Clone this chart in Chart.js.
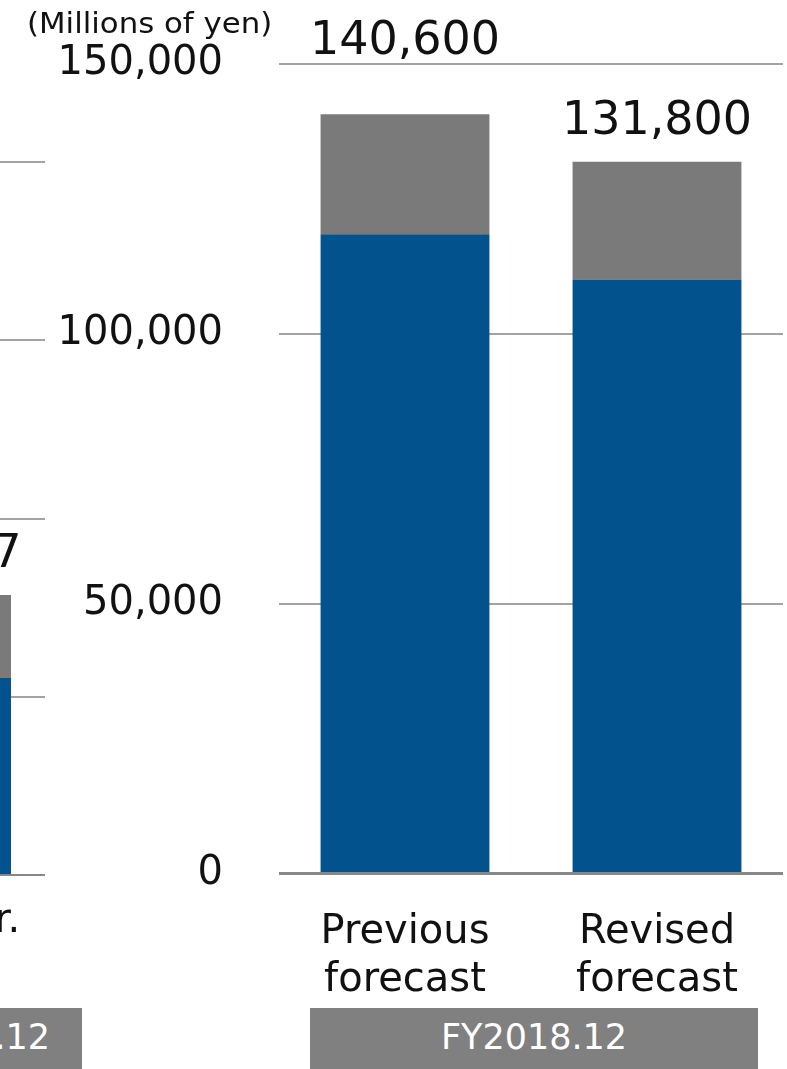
<!DOCTYPE html>
<html>
<head>
<meta charset="utf-8">
<script src="https://cdn.jsdelivr.net/npm/chart.js@4.4.1/dist/chart.umd.min.js"></script>
<style>
  html, body { margin: 0; padding: 0; background: #fff; overflow: hidden; }
  body { width: 787px; height: 1069px; position: relative; font-family: "DejaVu Sans", sans-serif; }
  canvas { position: absolute; top: 0; }
  #leftChart { left: -200px; }
  #mainChart { left: 0; }
  .unit { position: absolute; left: 27px; top: 7px; font-size: 28px; color: #111;
          transform-origin: left top; transform: scaleX(1.1); white-space: nowrap; }
  .fy { position: absolute; top: 1008px; height: 61px; background: #808080; color: #fff;
        font-size: 35px; line-height: 58px; text-align: center; }
</style>
</head>
<body>
<canvas id="leftChart" width="245" height="1069"></canvas>
<canvas id="mainChart" width="787" height="1069"></canvas>
<div class="unit">(Millions of yen)</div>
<div class="fy" style="left:-168px;width:250px">FY2017.12</div>
<div class="fy" style="left:310px;width:448px">FY2018.12</div>

<script>
// -----------------------
// Data
// -----------------------
const categories = [['Previous', 'forecast'], ['Revised', 'forecast']];
const mainSales = [118400, 110000];   // blue part
const otherSales = [22200, 21800];    // grey part
const yTicks = [0, 50000, 100000, 150000];

// earlier period, only its right edge is in view
const prevCategories = ['Actual yr.'];
const prevMain = [110500];
const prevOther = [46587];
const prevTicks = [0, 100000, 200000, 300000, 400000];

const BLUE = '#02538D';
const GREY = '#7A7A7A';
const TEXT = '#111';
const FONT = 'DejaVu Sans';

// total labels above each stacked bar
const totalLabels = {
  id: 'totalLabels',
  afterDatasetsDraw(chart) {
    const { ctx, chartArea } = chart;
    const top = chart.getDatasetMeta(chart.data.datasets.length - 1);
    ctx.save();
    ctx.font = `46px "${FONT}"`;
    ctx.fillStyle = TEXT;
    ctx.textAlign = 'center';
    ctx.textBaseline = 'middle';
    top.data.forEach((bar, i) => {
      const total = chart.data.datasets.reduce((s, d) => s + d.data[i], 0);
      let y = bar.y - 40;
      if (Math.abs(y - chartArea.top) < 25) y = chartArea.top - 21;
      ctx.fillText(total.toLocaleString('en-US'), bar.x, y);
    });
    ctx.restore();
  }
};

function gridStyle(tick0Width) {
  return {
    drawTicks: false,
    color: c => (c.tick && c.tick.value === 0 ? '#888' : '#a3a3a3'),
    lineWidth: c => (c.tick && c.tick.value === 0 ? tick0Width : 2)
  };
}

// -----------------------
// Main chart (FY2018.12)
// -----------------------
new Chart(document.getElementById('mainChart'), {
  type: 'bar',
  data: {
    labels: categories,
    datasets: [
      { label: 'Main', data: mainSales, backgroundColor: BLUE },
      { label: 'Other', data: otherSales, backgroundColor: GREY }
    ]
  },
  options: {
    responsive: false,
    animation: false,
    layout: { padding: { top: 63.5, right: 4, left: 0, bottom: 0 } },
    categoryPercentage: 1,
    barPercentage: 0.67,
    plugins: { legend: { display: false }, tooltip: { enabled: false } },
    scales: {
      x: {
        stacked: true,
        grid: { display: false },
        border: { display: false },
        ticks: { color: TEXT, font: { family: FONT, size: 40, lineHeight: 1.2 }, padding: 27, maxRotation: 0 },
        afterFit: s => { s.height = 195.5; s.paddingLeft = 0; s.paddingRight = 0; }
      },
      y: {
        stacked: true,
        min: 0,
        max: 150000,
        afterBuildTicks: s => { s.ticks = yTicks.map(v => ({ value: v })); },
        grid: gridStyle(3),
        border: { display: false },
        ticks: {
          color: TEXT,
          padding: 56,
          font: { family: FONT, size: 40 },
          callback: v => v.toLocaleString('en-US')
        },
        afterFit: s => { s.width = 279; s.paddingTop = 0; s.paddingBottom = 0; }
      }
    }
  },
  plugins: [totalLabels]
});

// -----------------------
// Previous period chart (cut off at the left edge)
// -----------------------
new Chart(document.getElementById('leftChart'), {
  type: 'bar',
  data: {
    labels: prevCategories,
    datasets: [
      { label: 'Main', data: prevMain, backgroundColor: BLUE },
      { label: 'Other', data: prevOther, backgroundColor: GREY }
    ]
  },
  options: {
    responsive: false,
    animation: false,
    layout: { padding: { top: 162, right: 0, left: 8, bottom: 0 } },
    categoryPercentage: 1,
    barPercentage: 0.713,
    plugins: { legend: { display: false }, tooltip: { enabled: false } },
    scales: {
      x: {
        stacked: true,
        grid: { display: false },
        border: { display: false },
        ticks: { color: TEXT, font: { family: FONT, size: 40, lineHeight: 1.2 }, padding: 15, maxRotation: 0 },
        afterFit: s => { s.height = 194; }
      },
      y: {
        stacked: true,
        min: 0,
        max: 400000,
        afterBuildTicks: s => { s.ticks = prevTicks.map(v => ({ value: v })); },
        grid: gridStyle(2),
        border: { display: false },
        ticks: { display: false },
        afterFit: s => { s.width = 0; }
      }
    }
  },
  plugins: [totalLabels]
});
</script>
</body>
</html>
